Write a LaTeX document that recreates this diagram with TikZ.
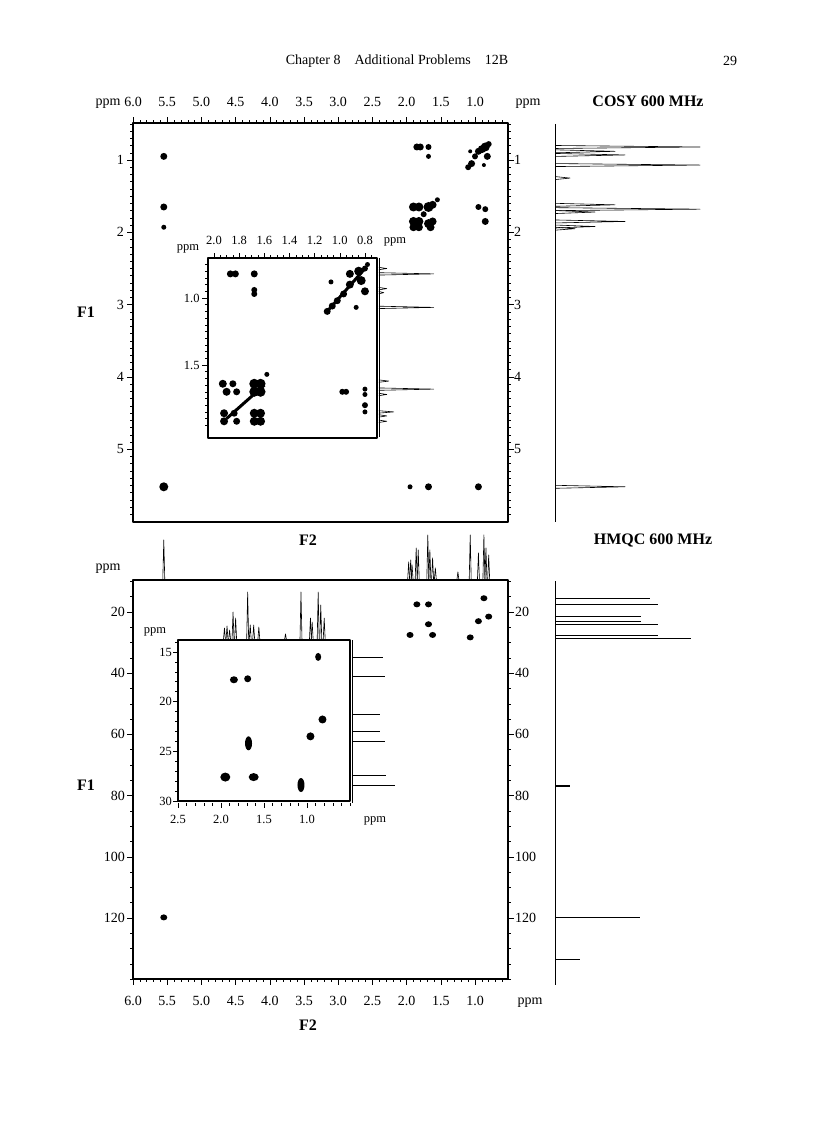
\documentclass[tikz,border=0pt]{standalone}
\usepackage{fontspec}
\setmainfont{Liberation Serif}
\begin{document}
\begin{tikzpicture}[x=1pt,y=-1pt,line join=round,
  lbl/.style={font=\fontsize{14}{16}\selectfont,inner sep=0pt},
  slbl/.style={font=\fontsize{12.5}{14}\selectfont,inner sep=0pt},
  ttl/.style={font=\fontsize{16}{18}\selectfont\bfseries,inner sep=0pt},
  frame/.style={line width=1.2pt},
  spec/.style={line width=0.6pt},
  blob/.style={fill=black}]
\useasboundingbox (0,0) rectangle (816,1123);
% header
\node[lbl] (hdr) at (397,61) {Chapter 8\quad Additional Problems\quad 12B};
\node[lbl] (pg) at (730,61) {29};
\node[ttl] (t1) at (648,101) {COSY 600 MHz};
\node[ttl] (t2) at (653,540) {HMQC 600 MHz};
\node[ttl] (f1a) at (86,312) {F1};
\node[ttl] (f2a) at (308,540) {F2};
\node[ttl] (f1b) at (86,785) {F1};
\node[ttl] (f2b) at (308,1025) {F2};

%================ COSY main
\draw[frame] (133,123) rectangle (508,522);
\begin{scope}[shift={(543.4,87.7)},x={(-68.4pt,0pt)},y={(0pt,-72.3pt)}]
 \foreach \v in {0.6,0.7,...,6.0} \draw[line width=0.5pt] (\v,0.49) -- ++(0pt,3pt);
 \foreach \v/\t in {6.0/6.0,5.5/5.5,5.0/5.0,4.5/4.5,4.0/4.0,3.5/3.5,3.0/3.0,2.5/2.5,2.0/2.0,1.5/1.5,1.0/1.0} {
   \draw[line width=0.6pt] (\v,0.49) -- ++(0pt,6pt);
   \node[lbl] at ([yshift=21pt]\v,0.49) {\t};}
 \foreach \v in {0.5,0.6,...,6.0} {\draw[line width=0.5pt] (6,\v) -- ++(-3pt,0pt); \draw[line width=0.5pt] (0.52,\v) -- ++(3pt,0pt);}
 \foreach \v in {1,...,5} {\draw[line width=0.6pt] (6,\v) -- ++(-6pt,0pt); \draw[line width=0.6pt] (0.52,\v) -- ++(6pt,0pt);
   \node[lbl,anchor=east] at ([xshift=-9pt]6,\v) {\v};
   \node[lbl,anchor=west] at ([xshift=6pt]0.52,\v) {\v};}
 % peaks
 \foreach \a/\b/\r in {5.55/0.95/3.5,5.55/1.65/3.5,5.55/1.93/2.5,5.55/5.52/4.5,1.95/5.52/2.5,1.68/5.52/3.5,0.95/5.52/3.5,
   1.85/0.82/3.5,1.8/0.82/3.5,1.68/0.82/3,1.68/0.95/2.5,0.95/1.65/3,0.85/1.68/3,0.85/1.85/3.5,
   1.9/1.65/4.5,1.82/1.65/4.5,1.68/1.65/5,1.62/1.62/4,1.9/1.85/4.5,1.82/1.85/4.5,1.68/1.88/4.5,1.62/1.85/4,1.9/1.93/4,1.65/1.93/4,1.82/1.93/4,1.55/1.55/2.5,1.75/1.75/3,
   0.85/0.82/4.5,0.8/0.78/3,0.9/0.85/4,0.95/0.88/3.5,0.82/0.95/3.5,1.0/0.95/3,1.05/1.05/3.5,1.1/1.1/3,1.07/0.88/2,0.87/1.07/2}
   \fill[blob] (\a,\b) circle[radius=\r pt];
 % right 1D
 \draw[spec] (-0.17,0.5) -- (-0.17,6.0);
 \foreach \d/\h in {0.82/145,0.88/60,0.93/70,1.07/145,1.25/15,1.62/60,1.68/145,1.72/40,1.85/70,1.92/40,1.95/20,5.52/70}
   \draw[spec] ([yshift=1.5pt]-0.17,\d) -- ([xshift=\h pt]-0.17,\d) -- ([yshift=-1.5pt]-0.17,\d);
\end{scope}
% COSY inset
\fill[white] (206,256) rectangle (379,440);
\draw[frame] (208,258) rectangle (377,438);
\begin{scope}[shift={(465.6,164)},x={(-125.8pt,0pt)},y={(0pt,-134pt)}]
 \foreach \v in {0.75,0.8,...,2.05} \draw[line width=0.5pt] (\v,0.70) -- ++(0pt,3pt);
 \foreach \v in {0.8,1.0,...,2.0} {\draw[line width=0.6pt] (\v,0.70) -- ++(0pt,5pt);}
 \foreach \v/\t in {2.0/2.0,1.8/1.8,1.6/1.6,1.4/1.4,1.2/1.2,1.0/1.0,0.8/0.8}
   \node[slbl] at ([yshift=17pt]\v,0.70) {\t};
 \foreach \v in {0.75,0.8,...,2.0} \draw[line width=0.5pt] (2.05,\v) -- ++(-3pt,0pt);
 \foreach \v in {1.0,1.5} {\draw[line width=0.6pt] (2.05,\v) -- ++(-6pt,0pt);
   \node[slbl,anchor=east] at ([xshift=-8pt]2.05,\v) {\v};}
 \foreach \a/\b/\r in {1.87/0.82/3.5,1.83/0.82/3.5,1.68/0.82/3.5,1.68/0.94/3,1.68/0.97/3,
   1.07/0.88/2.5,0.87/1.07/2.5,0.92/0.82/4,0.85/0.8/4.5,0.8/0.78/3,0.78/0.75/2.5,0.83/0.87/4.5,0.92/0.9/4,0.8/0.95/4,0.97/0.97/3.5,1.02/1.02/3.5,1.06/1.06/3.5,1.1/1.1/3.5,
   1.93/1.64/4,1.9/1.7/4,1.85/1.64/3.5,1.82/1.7/3.5,1.68/1.64/5,1.63/1.64/5,1.68/1.7/5,1.63/1.7/5,1.58/1.57/2.5,
   1.92/1.86/4,1.92/1.92/4,1.84/1.86/3.5,1.82/1.92/3.5,1.68/1.86/4.5,1.63/1.86/4.5,1.68/1.92/4.5,1.63/1.92/4.5,
   0.98/1.7/3,0.95/1.7/3,0.8/1.68/2.5,0.8/1.72/2.5,0.8/1.8/3,0.8/1.85/2.5}
   \fill[blob] (\a,\b) circle[radius=\r pt];
 \draw[line width=3pt] (1.6,1.65) -- (1.9,1.9);
 \draw[line width=3pt] (0.8,0.78) -- (1.1,1.1);
 \draw[spec] (0.69,0.7) -- (0.69,2.04);
 \foreach \d/\h in {0.78/8,0.82/55,0.93/8,0.96/5,1.07/55,1.62/10,1.68/55,1.72/8,1.85/15,1.88/8,1.92/8}
   \draw[spec] ([yshift=1.2pt]0.69,\d) -- ([xshift=\h pt]0.69,\d) -- ([yshift=-1.2pt]0.69,\d);
\end{scope}
\node[slbl] (ppmi1) at (188,249) {ppm};
\node[slbl] (ppmi2) at (395,242) {ppm};
\node[lbl] (ppm1) at (108,104) {ppm};
\node[lbl] (ppm2) at (528,104) {ppm};

%================ HMQC main
\draw[frame] (133,580) rectangle (508,979);
\begin{scope}[shift={(543.4,550.8)},x={(-68.4pt,0pt)},y={(0pt,-3.06pt)}]
 \foreach \v in {0.6,0.7,...,6.0} \draw[line width=0.5pt] (\v,140) -- ++(0pt,-3pt);
 \foreach \v/\t in {6.0/6.0,5.5/5.5,5.0/5.0,4.5/4.5,4.0/4.0,3.5/3.5,3.0/3.0,2.5/2.5,2.0/2.0,1.5/1.5,1.0/1.0} {
   \draw[line width=0.6pt] (\v,140) -- ++(0pt,-6pt);
   \node[lbl] at ([yshift=-22pt]\v,140) {\t};}
 \foreach \v in {10,15,...,140} {\draw[line width=0.5pt] (6,\v) -- ++(-3pt,0pt); \draw[line width=0.5pt] (0.52,\v) -- ++(3pt,0pt);}
 \foreach \v in {20,40,...,120} {\draw[line width=0.6pt] (6,\v) -- ++(-6pt,0pt); \draw[line width=0.6pt] (0.52,\v) -- ++(6pt,0pt);
   \node[lbl,anchor=east] at ([xshift=-8pt]6,\v) {\v};
   \node[lbl,anchor=west] at ([xshift=7pt]0.52,\v) {\v};}
 \foreach \a/\b in {0.87/15.5,1.85/17.5,1.68/17.5,0.8/21.5,0.95/23,1.68/24,1.95/27.5,1.62/27.5,1.07/28.3,5.55/119.8}
   \fill[blob] (\a,\b) circle[x radius=3.5pt,y radius=3pt];
 % top 1D
 \draw[spec] (6,9.5) -- (0.52,9.5);
 \foreach \d/\h in {5.55/40,1.97/18,1.94/20,1.92/15,1.86/32,1.83/30,1.69/45,1.66/30,1.62/22,1.58/12,1.25/8,1.07/45,0.95/27,0.87/45,0.84/32,0.8/25}
   \draw[spec] ([xshift=-1pt]\d,9.5) -- ([yshift=\h pt]\d,9.5) -- ([xshift=1pt]\d,9.5);
 % right 1D
 \draw[spec] (-0.17,10) -- (-0.17,142);
 \foreach \d/\h in {15.5/95,17.5/103,21.5/86,23/86,24/103,27.5/103,28.5/136,119.8/85,133.5/25}
   \draw[spec] (-0.17,\d) -- ([xshift=\h pt]-0.17,\d);
 \draw[line width=2pt] (-0.17,77) -- ([xshift=15pt]-0.17,77);
\end{scope}
\node[lbl] (ppm3) at (108,569) {ppm};
\node[lbl] (ppm4) at (530,1003) {ppm};
% HMQC inset
\fill[white] (176,590) rectangle (400,803);
\draw[frame] (178,640) rectangle (350,801);
\begin{scope}[shift={(393,503)},x={(-86pt,0pt)},y={(0pt,-9.93pt)}]
 \foreach \v in {0.5,0.6,...,2.5} \draw[line width=0.5pt] (\v,30.2) -- ++(0pt,-3pt);
 \foreach \v/\t in {2.5/2.5,2.0/2.0,1.5/1.5,1.0/1.0} {\draw[line width=0.6pt] (\v,30.2) -- ++(0pt,-5pt);
   \node[slbl] at ([yshift=-17pt]\v,30.2) {\t};}
 \foreach \v in {14,...,30} \draw[line width=0.5pt] (2.5,\v) -- ++(-3pt,0pt);
 \foreach \v in {15,20,25,30} {\draw[line width=0.6pt] (2.5,\v) -- ++(-5pt,0pt);
   \node[slbl,anchor=east] at ([xshift=-6pt]2.5,\v) {\v};}
 \foreach \a/\b/\rx/\ry in {0.87/15.5/3/4,1.85/17.8/4/3.5,1.69/17.7/3.5/3.5,0.82/21.8/4/4,0.96/23.5/4/4,1.68/24.2/3.5/7,1.95/27.6/5/4.5,1.62/27.6/5/4,1.07/28.4/3.5/7}
   \fill[blob] (\a,\b) circle[x radius=\rx pt,y radius=\ry pt];
 % top 1D
 \draw[spec] (2.5,13.8) -- (0.5,13.8);
 \foreach \d/\h in {1.96/12,1.93/14,1.9/10,1.86/28,1.83/22,1.69/48,1.66/15,1.62/15,1.56/13,1.25/6,1.07/48,0.96/22,0.94/18,0.87/48,0.84/35,0.8/22}
   \draw[spec] ([xshift=-1pt]\d,13.8) -- ([yshift=\h pt]\d,13.8) -- ([xshift=1pt]\d,13.8);
 % right 1D
 \draw[spec] (0.47,13.8) -- (0.47,30.2);
 \foreach \d/\h in {15.5/30,17.5/32,21.3/27,23/27,24/32,27.4/33,28.4/42}
   \draw[spec] (0.47,\d) -- ([xshift=\h pt]0.47,\d);
\end{scope}
\node[slbl] (ppmi3) at (155,632) {ppm};
\node[slbl] (ppmi4) at (375,821) {ppm};
\end{tikzpicture}
\end{document}
